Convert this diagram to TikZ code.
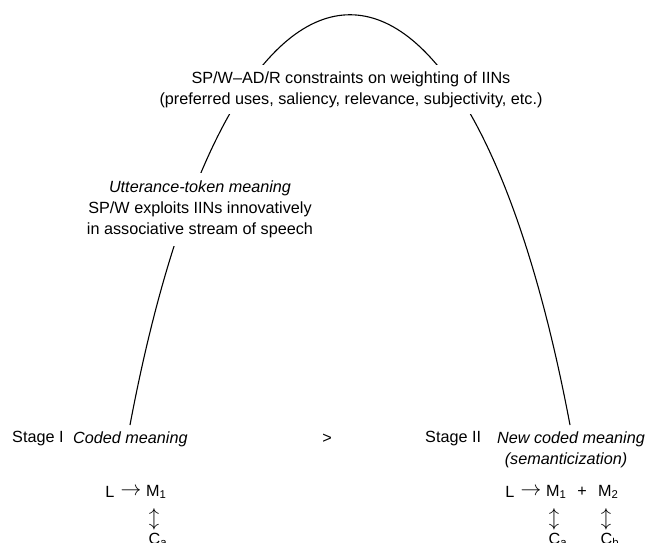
\documentclass[tikz,border=0pt]{standalone}
\usepackage{fontspec}
\setmainfont{Liberation Sans}
\begin{document}
\begin{tikzpicture}[x=1pt,y=-1pt,
  txt/.style={font=\fontsize{16.2}{21}\selectfont, inner sep=0pt},
  sym/.style={font=\fontsize{20.74}{21}\selectfont, inner sep=0pt},
  blk/.style={txt, align=center, fill=white, inner xsep=4pt},
  arch/.style={line width=1.1pt, black}]
\useasboundingbox (0,0) rectangle (646,542);

% the arch joining the two stages
\coordinate (archL) at (130,425);
\coordinate (archR) at (570,425);
\draw[arch] (archL) .. controls (233,-122) and (467,-122) .. (archR);

% texts laid over the arch (white ground breaks the line)
\node[blk, inner ysep=6pt] (constraints) at (351,89.5)
  {SP/W--AD/R constraints on weighting of IINs\\
   (preferred uses, saliency, relevance, subjectivity, etc.)};
\node[blk, inner ysep=8pt] (utterance) at (200,209.5)
  {\textit{Utterance-token meaning}\\
   SP/W exploits IINs innovatively\\
   in associative stream of speech};

% stage I
\node[txt, anchor=west] (stageI) at (12,439) {Stage I};
\node[txt, anchor=west] (coded) at (73,439) {\textit{Coded meaning}};
\node[txt] (gt) at (327,439) {>};

% stage II
\node[txt, anchor=west] (stageII) at (425,439) {Stage II};
\node[txt, anchor=west] (newcoded) at (497,439) {\textit{New coded meaning}};
\node[txt] (semant) at (566,460) {\textit{(semanticization)}};

% formula under stage I
\node[txt] (L1) at (110,492) {L};
\node[sym] (arr1) at (131,492) {$\rightarrow$};
\node[txt, anchor=west] (M1a) at (146,492) {M\textsubscript{1}};
\node[sym] (ud1) at (154,519) {$\updownarrow$};
\node[txt, anchor=west] (Ca1) at (148.5,540) {C\textsubscript{a}};

% formula under stage II
\node[txt] (L2) at (510,492) {L};
\node[sym] (arr2) at (531,492) {$\rightarrow$};
\node[txt, anchor=west] (M1b) at (546,492) {M\textsubscript{1}};
\node[txt] (plus) at (582,492) {+};
\node[txt, anchor=west] (M2b) at (598,492) {M\textsubscript{2}};
\node[sym] (ud2) at (554,519) {$\updownarrow$};
\node[sym] (ud3) at (606,519) {$\updownarrow$};
\node[txt, anchor=west] (Ca2) at (548.5,540) {C\textsubscript{a}};
\node[txt, anchor=west] (Cb2) at (600.5,540) {C\textsubscript{b}};
\end{tikzpicture}
\end{document}
